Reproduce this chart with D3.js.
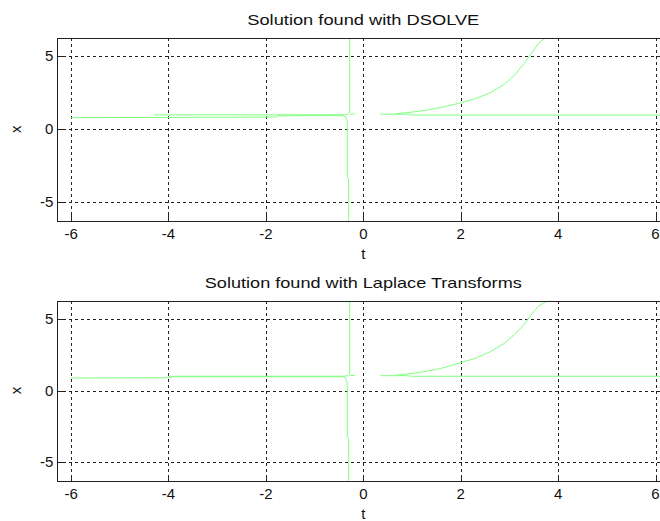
<!DOCTYPE html>
<html>
<head>
<meta charset="utf-8">
<script src="https://cdn.jsdelivr.net/npm/d3@7"></script>
<style>
  html, body { margin: 0; padding: 0; background: #fff; }
  svg { display: block; font-family: "Liberation Sans", Arial, sans-serif; }
  .grid line { stroke: #222; stroke-width: 1; stroke-dasharray: 3,3; shape-rendering: crispEdges; }
  .frame { fill: none; stroke: #222; stroke-width: 1; shape-rendering: crispEdges; }
  .curve { fill: none; stroke: #80ff80; stroke-width: 1; }
  .tick-label { font-size: 15px; fill: #111; }
  .title { font-size: 15px; fill: #111; }
</style>
</head>
<body>
<svg id="chart" width="660" height="521"></svg>
<script>
// ── Data ──────────────────────────────────────────────────────────────────
const tDomain = [-6.283, 6.283];
const xDomain = [-6.283, 6.283];
const tTicks = [-6, -4, -2, 0, 2, 4, 6];
const xTicks = [-5, 0, 5];

// DSOLVE panel, each branch as [t, x]
const dsolveLower  = [[-6.0, 0.80], [-1.8, 0.84], [-1.75, 0.93], [-0.42, 0.94], [-0.36, 0.85], [-0.33, 0.55], [-0.33, -3.2], [-0.30, -3.4], [-0.30, -6.3]];
const dsolveUpper  = [[-4.3, 0.99], [-0.45, 1.0], [-0.33, 1.02], [-0.28, 1.2], [-0.28, 6.3]];
const dsolveHook   = [[-0.28, 1.05], [-0.17, 1.05]];
const dsolveFlat   = [[0.35, 1.04], [0.9, 1.04], [1.0, 0.98], [6.3, 0.98]];
const dsolveRise   = [[0.65, 1.06], [1.0, 1.18], [1.3, 1.32], [1.6, 1.5], [2.0, 1.82], [2.3, 2.1], [2.6, 2.5], [2.9, 3.1], [3.1, 3.7], [3.3, 4.5], [3.45, 5.2], [3.6, 5.9], [3.75, 6.3]];

// Laplace panel
const laplaceLower = [[-6.0, 0.88], [-4.0, 0.90], [-3.9, 0.97], [-0.42, 0.97], [-0.36, 0.85], [-0.33, 0.55], [-0.33, -3.2], [-0.30, -3.4], [-0.30, -6.3]];
const laplaceUpper = [[-4.0, 1.0], [-0.45, 1.0], [-0.33, 1.02], [-0.28, 1.2], [-0.28, 6.3]];
const laplaceHook  = [[-0.28, 1.05], [-0.17, 1.05]];
const laplaceFlat  = [[0.35, 1.04], [0.9, 1.04], [1.0, 1.0], [6.3, 1.0]];
const laplaceRise  = [[0.65, 1.06], [1.0, 1.2], [1.3, 1.35], [1.6, 1.55], [2.0, 1.95], [2.3, 2.25], [2.6, 2.7], [2.9, 3.3], [3.1, 3.9], [3.3, 4.6], [3.45, 5.3], [3.6, 5.9], [3.8, 6.3]];

const panels = [
  { title: 'Solution found with DSOLVE', top: 37.7, bottom: 221,
    branches: [dsolveLower, dsolveUpper, dsolveHook, dsolveFlat, dsolveRise] },
  { title: 'Solution found with Laplace Transforms', top: 300.5, bottom: 480.7,
    branches: [laplaceLower, laplaceUpper, laplaceHook, laplaceFlat, laplaceRise] },
];

// ── Drawing ───────────────────────────────────────────────────────────────
const svg = d3.select('#chart');
const left = 57.3, right = 669.3;

panels.forEach((p, i) => {
  const xScale = d3.scaleLinear().domain(tDomain).range([left, right]);
  const yScale = d3.scaleLinear().domain(xDomain).range([p.bottom, p.top]);
  const g = svg.append('g');

  const clipId = `clip-${i}`;
  g.append('clipPath').attr('id', clipId)
    .append('rect')
    .attr('x', left).attr('y', p.top)
    .attr('width', right - left).attr('height', p.bottom - p.top);

  // grid
  const grid = g.append('g').attr('class', 'grid');
  grid.selectAll('.vg').data(tTicks).join('line')
    .attr('class', 'vg')
    .attr('x1', d => Math.round(xScale(d)) + 0.5).attr('x2', d => Math.round(xScale(d)) + 0.5)
    .attr('y1', p.top).attr('y2', p.bottom);
  grid.selectAll('.hg').data(xTicks).join('line')
    .attr('class', 'hg')
    .attr('x1', left).attr('x2', right)
    .attr('y1', d => Math.round(yScale(d)) + 0.5).attr('y2', d => Math.round(yScale(d)) + 0.5);

  // curves
  const line = d3.line().x(d => xScale(d[0])).y(d => yScale(d[1]));
  g.append('g').attr('clip-path', `url(#${clipId})`)
    .selectAll('path').data(p.branches).join('path')
    .attr('class', 'curve')
    .attr('d', line);

  // frame
  g.append('rect').attr('class', 'frame')
    .attr('x', Math.round(left) + 0.5).attr('y', Math.round(p.top) + 0.5)
    .attr('width', Math.round(right - left)).attr('height', Math.round(p.bottom - p.top));

  // tick marks (inside)
  g.selectAll('.tx').data(tTicks).join('line')
    .attr('stroke', '#222')
    .attr('x1', d => Math.round(xScale(d)) + 0.5).attr('x2', d => Math.round(xScale(d)) + 0.5)
    .attr('y1', Math.round(p.bottom)).attr('y2', Math.round(p.bottom) - 6);
  g.selectAll('.ty').data(xTicks).join('line')
    .attr('stroke', '#222')
    .attr('x1', Math.round(left)).attr('x2', Math.round(left) + 6)
    .attr('y1', d => Math.round(yScale(d)) + 0.5).attr('y2', d => Math.round(yScale(d)) + 0.5);

  // tick labels
  g.selectAll('.tl').data(tTicks).join('text')
    .attr('class', 'tick-label')
    .attr('x', d => xScale(d)).attr('y', p.bottom + 18)
    .attr('text-anchor', 'middle')
    .text(d => d);
  g.selectAll('.yl').data(xTicks).join('text')
    .attr('class', 'tick-label')
    .attr('x', left - 4).attr('y', d => yScale(d) + 5)
    .attr('text-anchor', 'end')
    .text(d => d);

  // title and labels
  g.append('text').attr('class', 'title')
    .attr('x', (left + right) / 2).attr('y', p.top - 13)
    .attr('text-anchor', 'middle')
    .attr('textLength', p.title.length > 30 ? 317 : 232)
    .attr('lengthAdjust', 'spacingAndGlyphs')
    .text(p.title);
  g.append('text').attr('class', 'title')
    .attr('x', (left + right) / 2).attr('y', p.bottom + 38)
    .attr('text-anchor', 'middle').text('t');
  g.append('text').attr('class', 'title')
    .attr('transform', `translate(21,${(p.top + p.bottom) / 2}) rotate(-90)`)
    .attr('text-anchor', 'middle').text('x');
});
</script>
</body>
</html>
